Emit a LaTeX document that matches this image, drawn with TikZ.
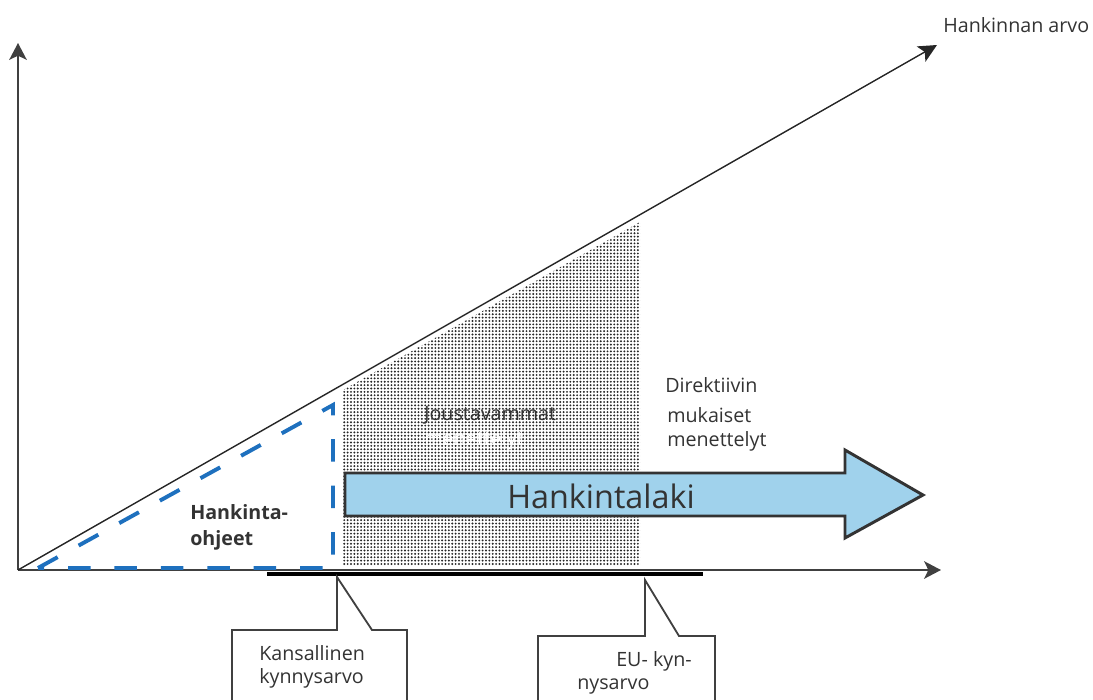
\documentclass[tikz,border=0pt]{standalone}
\usepackage{fontspec}
\setmainfont{Open Sans}
\usetikzlibrary{arrows.meta,patterns.meta}
\definecolor{lakiblue}{RGB}{160,210,236}
\definecolor{ohjeblue}{RGB}{30,112,190}
\definecolor{axisgray}{RGB}{64,64,64}
\definecolor{textgray}{RGB}{51,51,51}
\newcommand{\drawaxis}{\draw[line width=1.4pt,axisgray,-{Stealth[length=12pt,width=12.5pt,inset=3pt]}]}
% callout: left x, top y, right x, pointer x, pointer tip y, pointer end x
\newcommand{\calloutbox}[6]{
    \draw[line width=1.3pt,axisgray,line join=miter] (#1,720)--(#1,#2)--(#4,#2)--(#4,#5)--(#6,#2)--(#3,#2)--(#3,720);
}
\tikzset{
    lbl/.style={anchor=base west,inner sep=0pt,text=textgray,font=\fontsize{14}{16}\selectfont},
    boldlbl/.style={lbl,font=\fontsize{14}{16}\selectfont\bfseries},
    ohje/.style={line width=2.8pt,ohjeblue,dash pattern=on 16pt off 17pt}
}

\begin{document}
\begin{tikzpicture}[x=0.025cm,y=-0.025cm]
\useasboundingbox (0,0) rectangle (1093,699);
\coordinate (O) at (18,570);
\coordinate (ytip) at (18,43);
\coordinate (xtip) at (941,570);
\coordinate (dtip) at (937,45);
% dotted area
\fill[pattern={Dots[distance=2.4pt,radius=0.75pt]},pattern color=black!85] (343,390)--(343,566)--(640,566)--(640,222)--cycle;
% axes
\drawaxis (O)--(ytip);
\drawaxis (O)--(xtip);
\draw[line width=1pt,black!85,-{Stealth[length=13pt,width=12.5pt,inset=3pt]}] (O)--(dtip);
\draw[line width=2.8pt,black] (267,574)--(703,574);
% hankintaohjeet
\draw[ohje] (38,568)--(333,405)--(333,568)--cycle;
% hankintalaki
\draw[line width=2.1pt,black!80,fill=lakiblue,line join=miter] (345,473)--(845,473)--(845,450)--(923,495)--(845,538)--(845,516)--(345,516)--cycle;
\node[lbl,font=\fontsize{23}{26}\selectfont] (laki) at (507,508) {Hankintalaki};
% texts
\node[lbl] (arvo) at (943,32) {Hankinnan arvo};
\node[boldlbl] (ohje1) at (190,519) {Hankinta-};
\node[boldlbl] (ohje2) at (190,545) {ohjeet};
\node[lbl] (jous1) at (424,420) {Joustavammat};
\node[lbl,text=white] (jous2) at (424,445) {menettelyt};
\node[lbl] (dir1) at (665,392) {Direktiivin};
\node[lbl] (dir2) at (667,422) {mukaiset};
\node[lbl] (dir3) at (667,446) {menettelyt};
% kynnysarvot
\calloutbox{232}{630}{407}{337}{577}{372}
\node[lbl] (kans1) at (259,660) {Kansallinen};
\node[lbl] (kans2) at (259,683) {kynnysarvo};
\calloutbox{538}{636}{715}{645}{580}{679}
\node[lbl] (eu1) at (616,666) {EU- kyn-};
\node[lbl] (eu2) at (577,689) {nysarvo};
\end{tikzpicture}
\end{document}
